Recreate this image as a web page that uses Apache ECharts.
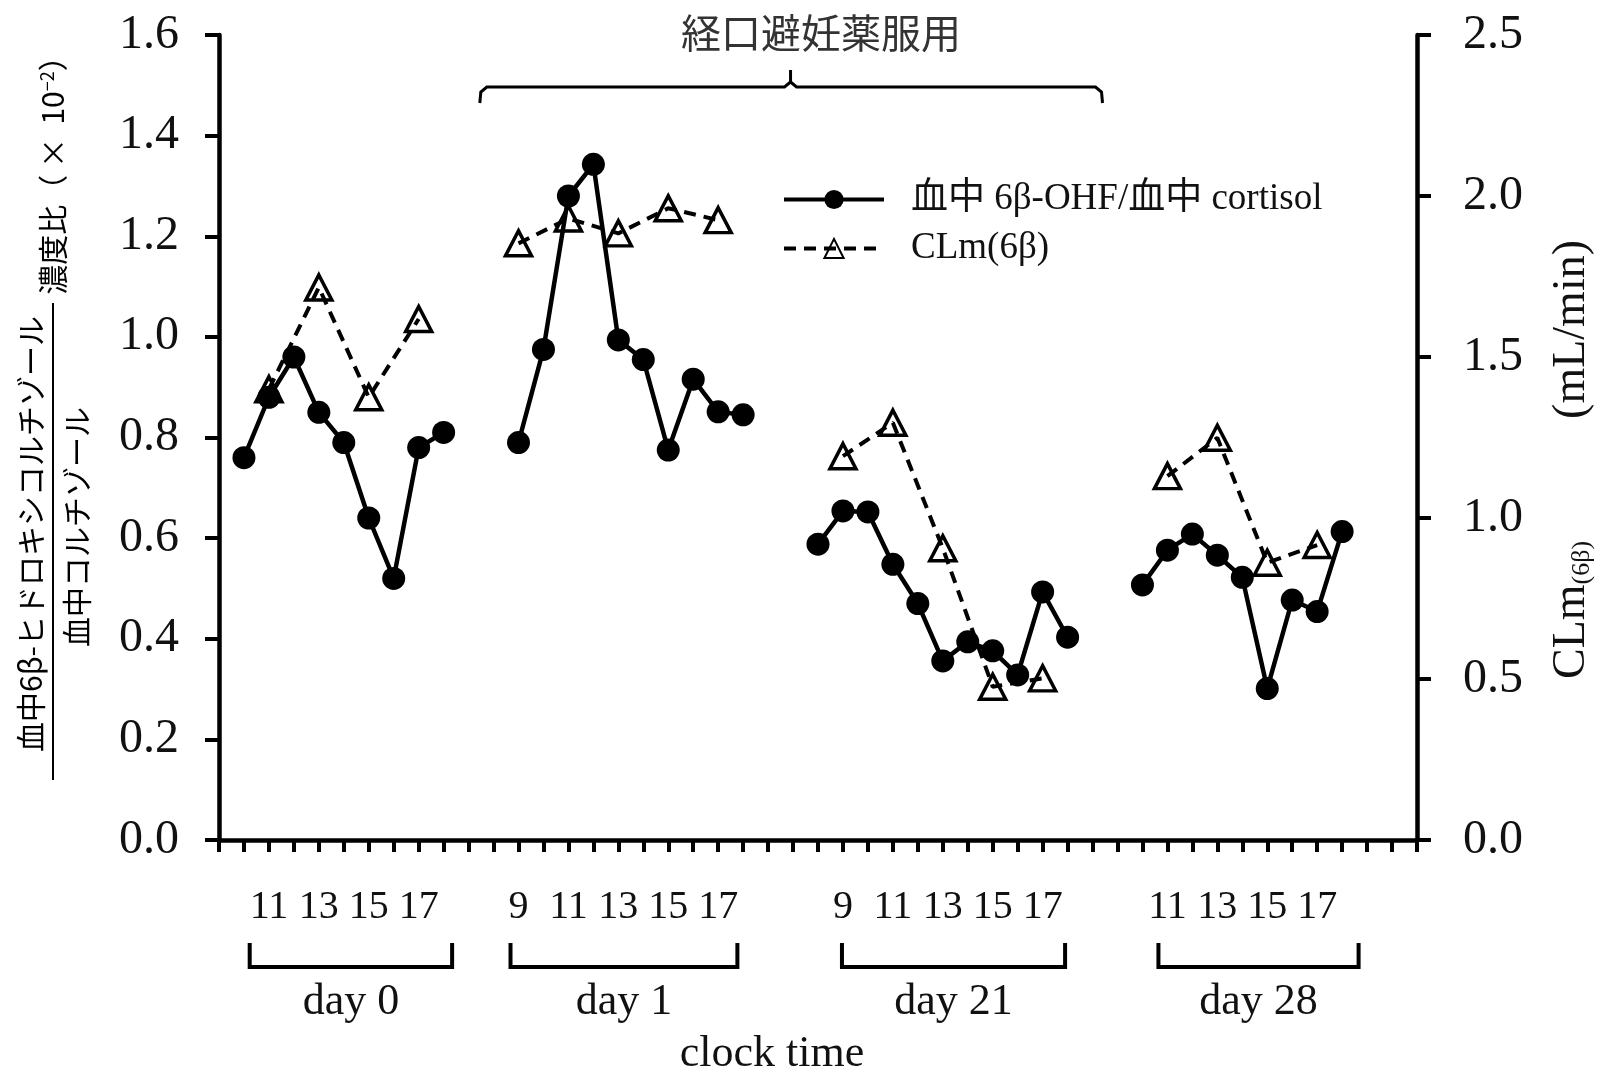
<!DOCTYPE html>
<html><head><meta charset="utf-8">
<script src="https://cdn.jsdelivr.net/npm/echarts@6/dist/echarts.min.js"></script>
<style>html,body{margin:0;padding:0;background:#fff}#c{width:1610px;height:1073px}</style>
</head><body><div id="c"></div>
<script>
// ---- data ----
const dayNames = ['day 0', 'day 1', 'day 21', 'day 28'];
const ratioHours = [
  [10, 11, 12, 13, 14, 15, 16, 17, 18],
  [9, 10, 11, 12, 13, 14, 15, 16, 17, 18],
  [8, 9, 10, 11, 12, 13, 14, 15, 16, 17, 18],
  [10, 11, 12, 13, 14, 15, 16, 17, 18]
];
const ratioValues = [
  [0.76, 0.88, 0.96, 0.85, 0.79, 0.64, 0.52, 0.78, 0.81],
  [0.79, 0.975, 1.28, 1.343, 0.994, 0.955, 0.775, 0.916, 0.851, 0.845],
  [0.588, 0.654, 0.652, 0.548, 0.47, 0.356, 0.394, 0.376, 0.328, 0.493, 0.403],
  [0.507, 0.576, 0.608, 0.566, 0.522, 0.301, 0.477, 0.454, 0.613]
];
const clmHours = [
  [11, 13, 15, 17],
  [9, 11, 13, 15, 17],
  [9, 11, 13, 15, 17],
  [11, 13, 15, 17]
];
const clmValues = [
  [1.40, 1.716, 1.375, 1.618],
  [1.853, 1.93, 1.884, 1.962, 1.925],
  [1.192, 1.296, 0.906, 0.476, 0.502],
  [1.130, 1.249, 0.861, 0.916]
];
const tickLabelHours = [
  [11, 13, 15, 17],
  [9, 11, 13, 15, 17],
  [9, 11, 13, 15, 17],
  [11, 13, 15, 17]
];
const leftTicks = [0.0, 0.2, 0.4, 0.6, 0.8, 1.0, 1.2, 1.4, 1.6];
const rightTicks = [0.0, 0.5, 1.0, 1.5, 2.0, 2.5];
const seriesNames = ['血中 6β-OHF/血中 cortisol', 'CLm(6β)'];
const topNote = '経口避妊薬服用';

// ---- layout (slot positions on the hour axis) ----
const slotOffset = [-9, 3, 16, 27];       // slot = hour + offset
const xSlots = 48;
const bracketSpans = [[1.23, 9.34], [11.68, 20.77], [24.96, 33.9], [37.64, 45.66]];
const topBracket = [10.45, 35.4, 22.9];

function buildData(hoursArr, valsArr) {
  const out = [];
  hoursArr.forEach((hs, d) => {
    hs.forEach((h, i) => out.push([h + slotOffset[d], valsArr[d][i]]));
    out.push([hs[hs.length - 1] + slotOffset[d] + 1, '-']);
  });
  return out;
}
const labelMap = {};
tickLabelHours.forEach((hs, d) => hs.forEach(h => { labelMap[h + slotOffset[d]] = String(h); }));

const SERIF = "'Liberation Serif','Times New Roman',serif";
const CJK = "'Noto Sans CJK JP','Noto Sans',sans-serif";
const axisLineStyle = { color: '#000', width: 4.5 };
const tickStyle = { color: '#000', width: 4 };

const option = {
  animation: false,
  backgroundColor: '#fff',
  grid: { left: 219, right: 193, top: 35, bottom: 233, containLabel: false, outerBoundsMode: 'none' },
  legend: {
    orient: 'vertical',
    left: 777, top: 176,
    itemWidth: 100, itemHeight: 24, itemGap: 12,
    lineStyle: { width: 4 },
    textStyle: { fontFamily: SERIF + ",'Noto Sans CJK JP'", fontSize: 37, color: '#111', padding: [0, 0, 0, 22] },
    data: seriesNames
  },
  xAxis: {
    type: 'value', min: 0, max: xSlots, interval: 1,
    axisLine: { lineStyle: axisLineStyle },
    axisTick: { inside: false, length: 12, lineStyle: tickStyle },
    splitLine: { show: false },
    axisLabel: {
      margin: 47, fontFamily: SERIF, fontSize: 40, color: '#111',
      showMinLabel: true, showMaxLabel: true,
      formatter: v => labelMap[v] || ''
    },
    name: 'clock time', nameLocation: 'middle', nameGap: 192,
    nameTextStyle: { fontFamily: SERIF, fontSize: 44, color: '#111', padding: [0, 92, 0, 0] }
  },
  yAxis: [
    {
      type: 'value', min: leftTicks[0], max: leftTicks[leftTicks.length - 1], interval: 0.2,
      axisLine: { show: true, lineStyle: axisLineStyle },
      axisTick: { show: true, inside: false, length: 14, lineStyle: tickStyle },
      splitLine: { show: false },
      axisLabel: { margin: 40, fontFamily: SERIF, fontSize: 48, color: '#111', formatter: v => v.toFixed(1) }
    },
    {
      type: 'value', position: 'right', min: rightTicks[0], max: rightTicks[rightTicks.length - 1], interval: 0.5,
      axisLine: { show: true, lineStyle: axisLineStyle },
      axisTick: { show: true, inside: false, length: 14, lineStyle: tickStyle },
      splitLine: { show: false },
      axisLabel: { margin: 46, fontFamily: SERIF, fontSize: 48, color: '#111', formatter: v => v.toFixed(1) },
      name: 'CLm{sub|(6β)}{gap|}(mL/min){gap2|}',
      nameLocation: 'middle', nameRotate: 90, nameGap: 132,
      nameTextStyle: {
        fontFamily: SERIF, fontSize: 46, color: '#111',
        rich: {
          sub: { fontFamily: SERIF, fontSize: 26, color: '#111', verticalAlign: 'bottom', lineHeight: 46 },
          gap: { width: 122 },
          gap2: { width: 44 }
        }
      }
    }
  ],
  series: [
    {
      name: seriesNames[0], type: 'line', yAxisIndex: 0, z: 3,
      data: buildData(ratioHours, ratioValues),
      symbol: 'circle', symbolSize: 23,
      itemStyle: { color: '#000' },
      lineStyle: { color: '#000', width: 4.5 },
      connectNulls: false
    },
    {
      name: seriesNames[1], type: 'line', yAxisIndex: 1, z: 2,
      data: buildData(clmHours, clmValues),
      symbol: 'triangle', symbolSize: [26, 25],
      itemStyle: { color: 'rgba(255,255,255,0)', borderColor: '#000', borderWidth: 3.5 },
      lineStyle: { color: '#000', width: 4, type: [12, 8] },
      connectNulls: false
    }
  ]
};

const chart = echarts.init(document.getElementById('c'));
chart.setOption(option);

function px(slot, v) { return chart.convertToPixel({ xAxisIndex: 0, yAxisIndex: 0 }, [slot, v]); }

const g = [];
// bottom day brackets + labels
bracketSpans.forEach((sp, d) => {
  const x1 = px(sp[0], 0)[0], x2 = px(sp[1], 0)[0];
  g.push({ type: 'polyline', shape: { points: [[x1, 943], [x1, 967], [x2, 967], [x2, 943]] },
    style: { stroke: '#000', lineWidth: 4, fill: null } });
  g.push({ type: 'text', x: (x1 + x2) / 2, y: 1002,
    style: { text: dayNames[d], font: '44px ' + SERIF, fill: '#111', align: 'center', verticalAlign: 'middle' } });
});
// top bracket
{
  const xa = px(topBracket[0], 0)[0], xb = px(topBracket[1], 0)[0], xc = px(topBracket[2], 0)[0];
  const yl = 87;
  g.push({ type: 'polyline', shape: { points: [[xa, 103], [xa + 1, 92], [xa + 7, yl], [xc - 6, yl], [xc, yl - 5], [xc, 70]] },
    style: { stroke: '#000', lineWidth: 3, fill: null } });
  g.push({ type: 'polyline', shape: { points: [[xb, 103], [xb - 1, 92], [xb - 7, yl], [xc + 6, yl], [xc, yl - 5]] },
    style: { stroke: '#000', lineWidth: 3, fill: null } });
  g.push({ type: 'text', x: 821, y: 33,
    style: { text: topNote, font: '40px ' + CJK, fill: '#333', align: 'center', verticalAlign: 'middle' } });
}
// left axis title (fraction)
g.push({ type: 'text', x: 31, y: 534, rotation: Math.PI / 2,
  style: { text: '血中6β-ヒドロキシコルチゾール', font: '30px ' + CJK, fill: '#000', align: 'center', verticalAlign: 'middle' } });
g.push({ type: 'line', shape: { x1: 53, y1: 303, x2: 53, y2: 780 }, style: { stroke: '#000', lineWidth: 2 } });
g.push({ type: 'text', x: 77, y: 527, rotation: Math.PI / 2,
  style: { text: '血中コルチゾール', font: '30px ' + CJK, fill: '#000', align: 'center', verticalAlign: 'middle' } });
g.push({ type: 'text', x: 53, y: 168, rotation: Math.PI / 2,
  style: { text: '濃度比（ ×  10{sup|−2}）', font: '30px ' + CJK, fill: '#000', align: 'center', verticalAlign: 'middle',
    rich: { sup: { font: '18px ' + CJK, fill: '#000', verticalAlign: 'top', lineHeight: 30 } } } });

chart.setOption({ graphic: g });
</script>
</body></html>
